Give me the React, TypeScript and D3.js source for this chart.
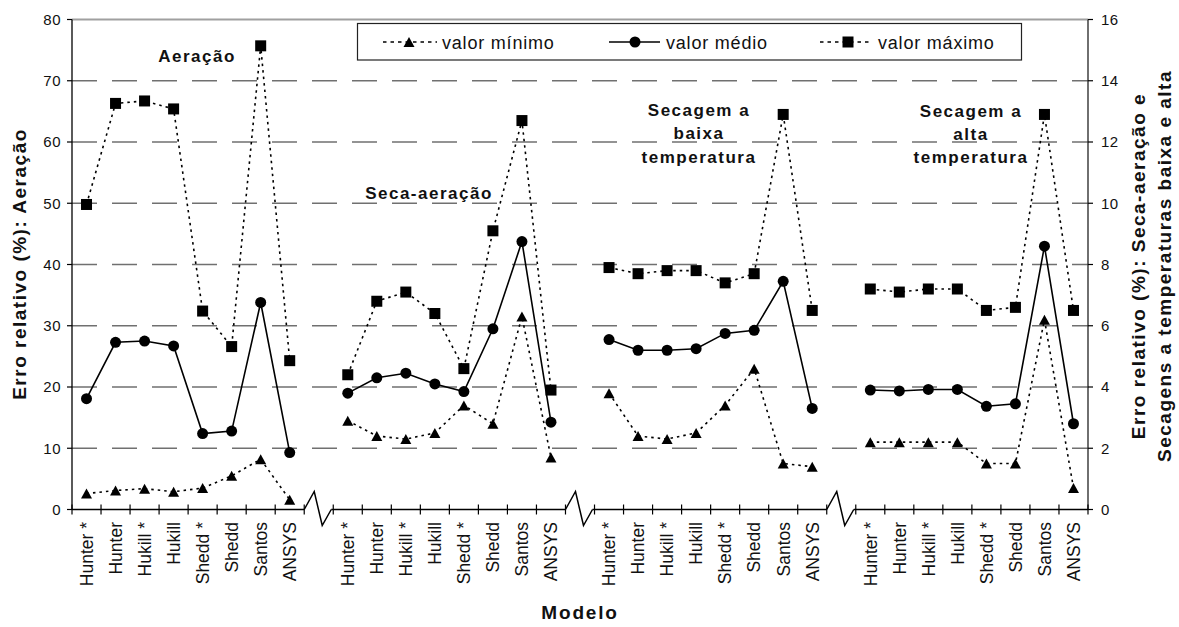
import React from "react";
import * as d3 from "d3";

// modelos (mesma ordem em cada grupo)
const modelos = ["Hunter *", "Hunter", "Hukill *", "Hukill", "Shedd *", "Shedd", "Santos", "ANSYS"];

// Aeração - eixo esquerdo (%)
const aeracaoMin = [2.6, 3.1, 3.4, 2.9, 3.5, 5.5, 8.2, 1.6];
const aeracaoMedio = [18.1, 27.3, 27.5, 26.7, 12.4, 12.8, 33.8, 9.3];
const aeracaoMax = [49.8, 66.3, 66.7, 65.4, 32.4, 26.6, 75.7, 24.3];

// Seca-aeração - eixo direito (%)
const secaMin = [2.9, 2.4, 2.3, 2.5, 3.4, 2.8, 6.3, 1.7];
const secaMedio = [3.8, 4.3, 4.45, 4.1, 3.85, 5.9, 8.75, 2.85];
const secaMax = [4.4, 6.8, 7.1, 6.4, 4.6, 9.1, 12.7, 3.9];

// Secagem a baixa temperatura - eixo direito
const baixaMin = [3.8, 2.4, 2.3, 2.5, 3.4, 4.6, 1.5, 1.4];
const baixaMedio = [5.55, 5.2, 5.2, 5.25, 5.75, 5.85, 7.45, 3.3];
const baixaMax = [7.9, 7.7, 7.8, 7.8, 7.4, 7.7, 12.9, 6.5];

// Secagem a alta temperatura - eixo direito
const altaMin = [2.2, 2.2, 2.2, 2.2, 1.5, 1.5, 6.2, 0.7];
const altaMedio = [3.9, 3.87, 3.92, 3.92, 3.37, 3.45, 8.6, 2.8];
const altaMax = [7.2, 7.1, 7.2, 7.2, 6.5, 6.6, 12.9, 6.5];

const ticksEsq = [0, 10, 20, 30, 40, 50, 60, 70, 80];
const ticksDir = [0, 2, 4, 6, 8, 10, 12, 14, 16];

const legenda = ["valor mínimo", "valor médio", "valor máximo"];

const FONT = "'Liberation Sans', Arial, Helvetica, sans-serif";

const x0 = 72, x1 = 1088, yTop = 19.5, yBot = 509.5;

function Marker({ kind, cx, cy }: { kind: string; cx: number; cy: number }) {
  if (kind === "min")
    return <path d={`M${cx},${cy - 5}L${cx + 5.5},${cy + 5}L${cx - 5.5},${cy + 5}Z`} fill="#000" />;
  if (kind === "medio") return <circle cx={cx} cy={cy} r={5.5} fill="#000" />;
  return <rect x={cx - 5.5} y={cy - 5.5} width={11} height={11} fill="#000" />;
}

export default function App() {
  const nSlots = 35;
  const x = d3.scaleLinear().domain([0, nSlots]).range([x0, x1]);
  const yL = d3.scaleLinear().domain([0, 80]).range([yBot, yTop]);
  const yR = d3.scaleLinear().domain([0, 16]).range([yBot, yTop]);

  const grupos = [
    { min: aeracaoMin, medio: aeracaoMedio, max: aeracaoMax, y: yL },
    { min: secaMin, medio: secaMedio, max: secaMax, y: yR },
    { min: baixaMin, medio: baixaMedio, max: baixaMax, y: yR },
    { min: altaMin, medio: altaMedio, max: altaMax, y: yR },
  ];
  const slot = (g: number, i: number) => g * 9 + i;
  const cx = (g: number, i: number) => x(slot(g, i) + 0.5);
  const breaks = [8, 17, 26];

  const estilos: Record<string, { dash?: string }> = {
    min: { dash: "2.5,4" },
    medio: {},
    max: { dash: "2.5,4" },
  };

  // eixo x com quebras
  const axisSegs: [number, number][] = [];
  let start = x(0);
  breaks.forEach((b) => {
    axisSegs.push([start, x(b)]);
    start = x(b) + 27;
  });
  axisSegs.push([start, x(nSlots)]);

  const annot = [
    { cx: 197, lines: ["Aeração"], y: [62] },
    { cx: 429, lines: ["Seca-aeração"], y: [199] },
    { cx: 699, lines: ["Secagem a", "baixa", "temperatura"], y: [116, 139, 163] },
    { cx: 971, lines: ["Secagem a", "alta", "temperatura"], y: [117, 140, 163] },
  ];

  const legItems = [
    { kind: "min", lx: 383, rx: 437, mx: 409, tx: 442 },
    { kind: "medio", lx: 609, rx: 660, mx: 635, tx: 666 },
    { kind: "max", lx: 820, rx: 872, mx: 848, tx: 878 },
  ];

  return (
    <svg width={1179} height={627} style={{ position: "absolute", left: 0, top: 0, background: "#fff" }} fontFamily={FONT}>
      {/* grade */}
      {ticksEsq.slice(1, -1).map((t) => (
        <line key={t} x1={x0} x2={x1} y1={yL(t)} y2={yL(t)} stroke="#707070" strokeWidth={1.4} strokeDasharray="25,15" />
      ))}
      <line x1={x0} x2={x1} y1={yTop} y2={yTop} stroke="#a0a0a0" strokeWidth={2} />

      {/* eixos */}
      <line x1={x0} x2={x0} y1={yTop} y2={yBot} stroke="#000" strokeWidth={1.3} />
      <line x1={x1} x2={x1} y1={yTop} y2={yBot} stroke="#222" strokeWidth={1.3} />
      {ticksEsq.map((t) => (
        <g key={t}>
          <line x1={x0 - 5} x2={x0} y1={yL(t)} y2={yL(t)} stroke="#000" strokeWidth={1.2} />
          <text x={61} y={yL(t)} dy="0.35em" textAnchor="end" fontSize={15} letterSpacing={0.5} fill="#111">{t}</text>
        </g>
      ))}
      {ticksDir.map((t) => (
        <g key={t}>
          <line x1={x1} x2={x1 + 5} y1={yR(t)} y2={yR(t)} stroke="#000" strokeWidth={1.2} />
          <text x={1101} y={yR(t)} dy="0.35em" textAnchor="start" fontSize={15} letterSpacing={0.5} fill="#111">{t}</text>
        </g>
      ))}
      {axisSegs.map(([a, b], i) => (
        <line key={i} x1={a} x2={b} y1={yBot} y2={yBot} stroke="#000" strokeWidth={1.4} />
      ))}
      {d3.range(nSlots + 1).map((s) => (
        <line key={s} x1={x(s)} x2={x(s)} y1={yBot - 5} y2={yBot + 5} stroke="#000" strokeWidth={1.2} />
      ))}
      {breaks.map((b) => {
        const s = x(b);
        return (
          <path key={b} d={`M${s},${yBot}L${s + 10},${yBot - 18}L${s + 18},${yBot + 16}L${s + 27},${yBot}`} fill="none" stroke="#000" strokeWidth={1.5} />
        );
      })}

      {/* rótulos do eixo x */}
      {grupos.map((_, g) =>
        modelos.map((m, i) => (
          <text key={`${g}-${i}`} transform={`translate(${cx(g, i)},522) rotate(-90)`} textAnchor="end" dy="0.36em" fontSize={17.5} fill="#111">{m}</text>
        ))
      )}

      {/* séries */}
      {grupos.map((gr, g) =>
        (["min", "medio", "max"] as const).map((k) => {
          const vals = gr[k];
          const line = d3.line<number>().x((_, i) => cx(g, i)).y((v) => gr.y(v));
          return (
            <g key={`${g}-${k}`}>
              <path d={line(vals) || ""} fill="none" stroke="#000" strokeWidth={1.6} strokeDasharray={estilos[k].dash} />
              {vals.map((v, i) => (
                <Marker key={i} kind={k} cx={cx(g, i)} cy={gr.y(v)} />
              ))}
            </g>
          );
        })
      )}

      {/* anotações */}
      {annot.map((a, i) =>
        a.lines.map((l, j) => (
          <text key={`${i}-${j}`} x={a.cx} y={a.y[j]} textAnchor="middle" fontSize={17} fontWeight="bold" letterSpacing={1.5} fill="#111">{l}</text>
        ))
      )}

      {/* legenda */}
      <rect x={357.5} y={23.5} width={664} height={36.5} fill="#fff" stroke="#222" strokeWidth={1.2} />
      {legItems.map((it, i) => (
        <g key={i}>
          <line x1={it.lx} x2={it.rx} y1={42} y2={42} stroke="#000" strokeWidth={1.6} strokeDasharray={it.kind === "medio" ? undefined : "3.5,4"} />
          <Marker kind={it.kind} cx={it.mx} cy={42} />
          <text x={it.tx} y={48.5} fontSize={18} letterSpacing={0.8} fill="#111">{legenda[i]}</text>
        </g>
      ))}

      {/* títulos dos eixos */}
      <text transform={`translate(19,264) rotate(-90)`} textAnchor="middle" dy="0.36em" fontSize={19} fontWeight="bold" letterSpacing={1.5} fill="#111">Erro relativo (%): Aeração</text>
      <text transform={`translate(1138,266) rotate(-90)`} textAnchor="middle" dy="0.36em" fontSize={19} fontWeight="bold" letterSpacing={1.5} fill="#111">Erro relativo (%): Seca-aeração e</text>
      <text transform={`translate(1164,266) rotate(-90)`} textAnchor="middle" dy="0.36em" fontSize={19} fontWeight="bold" letterSpacing={1.5} fill="#111">Secagens a temperaturas baixa e alta</text>
      <text x={580} y={619} textAnchor="middle" fontSize={19} fontWeight="bold" letterSpacing={1.8} fill="#111">Modelo</text>
    </svg>
  );
}
